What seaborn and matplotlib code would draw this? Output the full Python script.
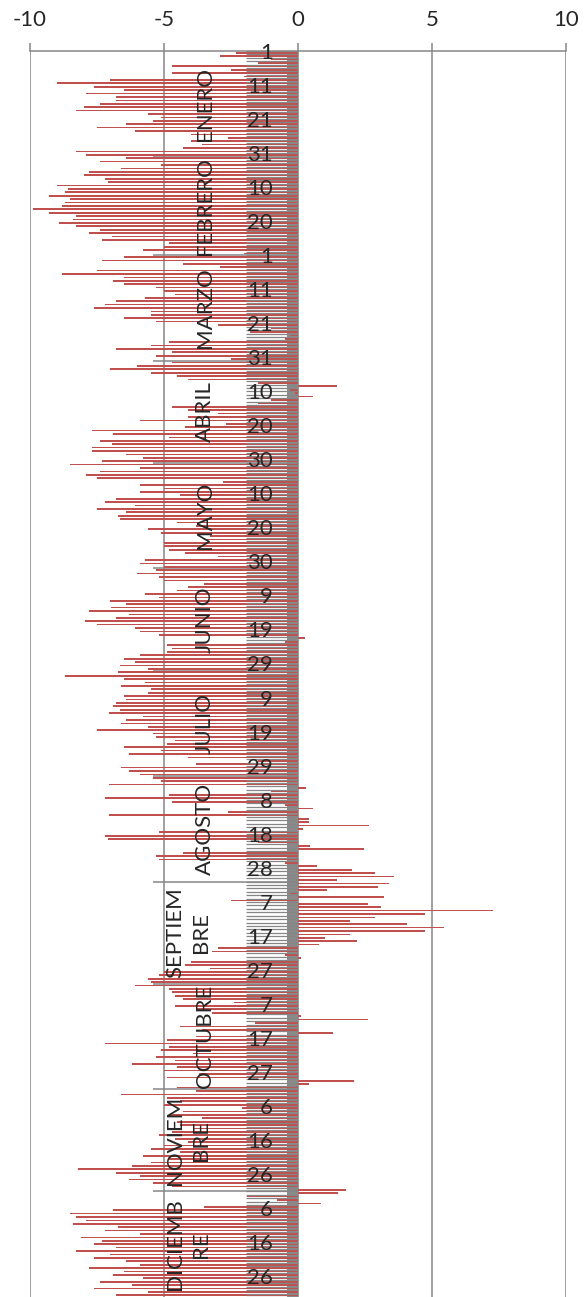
import numpy as np
import pandas as pd
import seaborn as sns
import matplotlib.pyplot as plt

# valores diarios (año bisiesto, 366 dias)
enero = [-2.3, -2.9, -1.0, -1.5, -4.7, -2.5, -4.7, -2.0, -7.0, -9.0, -7.6, -6.5, -7.9, -6.8, -6.8, -7.4,
         -8.0, -8.3, -5.6, -5.1, -5.4, -6.4, -7.5, -6.1, -4.0, -2.6, -4.0, -3.6, -4.3, -8.3, -7.9]
febrero = [-6.4, -7.4, -5.1, -6.6, -7.8, -8.0, -7.2, -7.1, -9.0, -8.6, -8.7, -9.3, -8.5, -8.7, -8.8,
           -9.9, -9.3, -8.3, -8.4, -8.9, -8.3, -7.4, -7.8, -6.95, -7.3, -4.8, -5.0, -5.8, -2.0]
marzo = [-6.5, -7.3, -4.3, -2.9, -7.5, -8.8, -6.5, -6.9, -6.5, -5.3, -5.0, -4.6, -5.7, -6.8, -7.2, -7.6,
         -5.5, -5.5, -6.5, -5.3, -3.0, -1.0, -1.8, -0.3, -0.5, -4.8, -5.5, -6.8, -4.7, -5.3, -2.5]
abril = [-4.7, -6.0, -7.0, -5.5, -4.5, -4.1, -1.5, 1.44, -0.3, -0.1, 0.55, -1.0, -1.5, -4.7, -4.1,
         -3.0, -4.1, -5.9, -2.7, -4.2, -7.7, -6.9, -4.8, -7.4, -6.95, -7.7, -7.7, -6.4, -5.8, -7.3]
mayo = [-8.5, -5.9, -7.4, -7.9, -7.5, -2.8, -5.9, -5.0, -5.9, -4.4, -6.8, -7.2, -6.1, -7.5, -6.4, -6.7,
        -6.65, -4.5, -3.8, -5.6, -5.1, -3.3, -3.5, -5.0, -5.0, -4.8, -4.2, -3.0, -5.7, -5.9, -5.0]
junio = [-5.3, -6.0, -5.2, -5.0, -3.5, -4.1, -4.5, -5.7, -5.2, -7.0, -6.4, -6.97, -7.8, -6.3, -6.8,
         -7.96, -7.5, -6.1, -5.9, -5.2, 0.26, -0.5, -4.9, -4.7, -4.9, -5.9, -6.5, -6.1, -6.65, -5.6]
julio = [-6.7, -8.7, -6.5, -5.7, -6.6, -5.5, -5.6, -6.5, -6.4, -6.8, -6.9, -6.65, -7.07, -5.8, -6.4,
         -6.6, -5.6, -7.5, -5.4, -5.3, -4.6, -4.9, -6.5, -5.1, -6.3, -4.1, -1.5, -3.8, -6.6, -6.3, -5.9]
agosto = [-5.4, -5.1, -7.07, 0.3, -1.0, -4.8, -7.2, -4.7, -0.5, 0.55, -2.6, -7.07, 0.42, 0.42, 2.65,
          0.2, -5.2, -7.2, -7.1, -1.5, 0.45, 2.45, -4.3, -5.3, -5.2, -0.5, 0.72, 2.0, 2.86, 3.6, 1.44]
septiembre = [3.4, 3.0, 1.1, -0.3, 3.2, -2.5, 2.6, 3.1, 7.26, 4.74, 2.86, 1.95, 4.06, 5.45, 4.74,
              1.95, 1.0, 2.2, 0.8, -3.0, -3.2, -0.5, 0.1, -4.0, -4.2, -3.3, -5.0, -5.2, -5.6, -5.5]
octubre = [-6.1, -4.8, -4.7, -4.6, -4.3, -2.4, -4.6, -3.8, -3.2, 0.1, 2.6, -1.6, -4.4, -3.6, 1.3, -3.8,
           -4.9, -7.2, -4.8, -5.1, -3.9, -5.3, -4.6, -6.2, -4.5, -5.0, -3.7, -4.9, 2.1, 0.4, -4.5]
noviembre = [-3.8, -6.6, -4.9, -4.4, -5.0, -2.1, -4.3, -4.8, -3.6, -4.5, -4.4, -3.9, -4.7, -5.2, -4.6,
             -4.1, -5.0, -5.5, -4.4, -5.8, -4.8, -5.5, -6.2, -8.2, -6.8, -5.9, -6.3, -5.4, -4.7, 1.8]
diciembre = [1.5, -1.9, -0.8, 0.85, -3.5, -6.9, -8.5, -8.3, -7.9, -8.4, -6.7, -7.2, -5.9, -8.1, -7.3,
             -7.6, -6.8, -8.3, -7.0, -7.6, -6.4, -5.9, -7.8, -6.5, -6.9, -5.8, -7.4, -6.2, -7.6, -5.6, -6.8]

meses = ['ENERO', 'FEBRERO', 'MARZO', 'ABRIL', 'MAYO', 'JUNIO', 'JULIO', 'AGOSTO',
         'SEPTIEM\nBRE', 'OCTUBRE', 'NOVIEM\nBRE', 'DICIEMB\nRE']
dias_mes = [31, 29, 31, 30, 31, 30, 31, 31, 30, 31, 30, 31]
ticks_x = [-10, -5, 0, 5, 10]

valores = (enero + febrero + marzo + abril + mayo + junio + julio + agosto +
           septiembre + octubre + noviembre + diciembre)
dia_mes = np.concatenate([np.arange(1, n + 1) for n in dias_mes])
df = pd.DataFrame({'dia': np.arange(1, len(valores) + 1), 'valor': valores, 'dia_mes': dia_mes})
n = len(df)

sns.set_style('white')
plt.rcParams['font.family'] = ['Lato', 'DejaVu Sans']

gris = '#868686'
fig = plt.figure(figsize=(5.85, 12.97), dpi=100)
ax = fig.add_axes([30 / 585, 0, 536 / 585, 1 - 51 / 1297])

# marcas de categoria (banda gris) y separadores de mes
ax.hlines(np.arange(0.5, n + 1), -1.93, 0, color=gris, lw=0.9, zorder=3.5)
ax.axvspan(-0.4, 0, color='#8a8a8a', lw=0, zorder=1.4)
limites = np.cumsum(dias_mes)[:-1] + 0.5
ax.hlines(limites, -5.4, 0, color=gris, lw=1.1, zorder=1.6)

sns.barplot(data=df, x='valor', y='dia', orient='h', native_scale=True, color='#C0504D',
            saturation=1, width=0.5, errorbar=None, linewidth=0, ax=ax, zorder=3)

# etiquetas de dia cada 10 categorias
for _, r in df[(df['dia'] - 1) % 10 == 0].iterrows():
    ax.text(-0.94, r['dia'], str(int(r['dia_mes'])), ha='right', va='center',
            fontsize=16, zorder=5, clip_on=False)

# etiquetas de mes
inicio = 1
for mes, nd in zip(meses, dias_mes):
    centro = inicio + (nd - 1) / 2
    xm = -4.1 if '\n' in mes else -3.47
    ax.text(xm, centro, mes, rotation=90, ha='center', va='center', fontsize=16,
            linespacing=1.35, zorder=5)
    inicio += nd

ax.set_xlim(-10, 10)
ax.set_ylim(n + 0.5, 0.5)
ax.set_xticks(ticks_x)
ax.set_xticklabels([str(t) for t in ticks_x])
ax.set_yticks([])
ax.set_xlabel('')
ax.set_ylabel('')
ax.xaxis.tick_top()
ax.tick_params(axis='x', direction='out', length=5.8, width=1.1, color=gris, labelsize=16, pad=9)
ax.grid(axis='x', color=gris, lw=1.1)
ax.set_axisbelow(True)
for s in ['left', 'right', 'bottom']:
    ax.spines[s].set_visible(False)
ax.spines['top'].set_color(gris)
ax.spines['top'].set_linewidth(1.1)

fig.savefig('out.png', dpi=100)
